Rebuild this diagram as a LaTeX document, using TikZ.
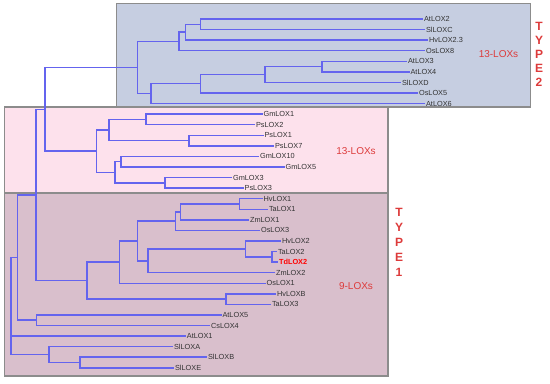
\documentclass[tikz,border=0pt]{standalone}
\usepackage{fontspec}
\setmainfont{Liberation Sans}
\definecolor{boxblue}{HTML}{C6CEE1}
\definecolor{boxpink}{HTML}{FDE1EC}
\definecolor{boxmauve}{HTML}{D9BFCC}
\definecolor{brc}{HTML}{6464EE}
\definecolor{lbred}{HTML}{DD3B3B}
\begin{document}
\begin{tikzpicture}[x=0.75pt, y=-0.75pt,
        bx/.style={draw=black!45, line width=0.9pt},
        br/.style={draw=brc, line width=1.1pt},
        lf/.style={anchor=west, inner sep=0.6pt, font=\fontsize{5.5}{6}\selectfont, text=black!80},
        grp/.style={font=\fontsize{7.5}{8}\selectfont, text=lbred},
        typ/.style={text=lbred, align=center, inner sep=0pt}
    ]
        \useasboundingbox (0,0) rectangle (550,383);
        % boxes
        \draw[bx, fill=boxblue]  (116.7,3.3) rectangle (530.7,107);
        \draw[bx, fill=boxpink]  (4.3,107)   rectangle (388,193);
        \draw[bx, fill=boxmauve] (4.3,193)   rectangle (388,376);

        % leaves, type 2
        \node[lf] (AtLOX2)  at (423,19)    {AtLOX2};
        \node[lf] (SlLOXC)  at (425,29.6)  {SlLOXC};
        \node[lf] (HvLOX23) at (428,40.1)  {HvLOX2.3};
        \node[lf] (OsLOX8)  at (425,50.7)  {OsLOX8};
        \node[lf] (AtLOX3)  at (407,61.3)  {AtLOX3};
        \node[lf] (AtLOX4)  at (409.5,71.9){AtLOX4};
        \node[lf] (SlLOXD)  at (401,82.4)  {SlLOXD};
        \node[lf] (OsLOX5)  at (418,93)    {OsLOX5};
        \node[lf] (AtLOX6)  at (425,103.6) {AtLOX6};
        % leaves, 13-LOXs
        \node[lf] (GmLOX1)  at (262.5,114.1) {GmLOX1};
        \node[lf] (PsLOX2)  at (255,124.7)   {PsLOX2};
        \node[lf] (PsLOX1)  at (263.5,135.3) {PsLOX1};
        \node[lf] (PsLOX7)  at (274,145.8)   {PsLOX7};
        \node[lf] (GmLOX10) at (259,156.4)   {GmLOX10};
        \node[lf] (GmLOX5)  at (284.5,167)   {GmLOX5};
        \node[lf] (GmLOX3)  at (232,177.6)   {GmLOX3};
        \node[lf] (PsLOX3)  at (243.6,188.1) {PsLOX3};
        % leaves, 9-LOXs
        \node[lf] (HvLOX1)  at (262.5,198.7) {HvLOX1};
        \node[lf] (TaLOX1)  at (268,209.3)   {TaLOX1};
        \node[lf] (ZmLOX1)  at (249,219.8)   {ZmLOX1};
        \node[lf] (OsLOX3)  at (260,230.4)   {OsLOX3};
        \node[lf] (HvLOX2)  at (281,241)     {HvLOX2};
        \node[lf] (TaLOX2)  at (277,251.5)   {TaLOX2};
        \node[lf, text=red, font=\fontsize{5.5}{6}\selectfont\bfseries] (TdLOX2) at (278,262.1) {TdLOX2};
        \node[lf] (ZmLOX2)  at (275,272.7)   {ZmLOX2};
        \node[lf] (OsLOX1)  at (265.6,283.3) {OsLOX1};
        \node[lf] (HvLOXB)  at (276,293.8)   {HvLOXB};
        \node[lf] (TaLOX3)  at (271,304.4)   {TaLOX3};
        \node[lf] (AtLOX5)  at (221.5,315)   {AtLOX5};
        \node[lf] (CsLOX4)  at (210,325.5)   {CsLOX4};
        \node[lf] (AtLOX1)  at (185.8,336.1) {AtLOX1};
        \node[lf] (SlLOXA)  at (173,346.7)   {SlLOXA};
        \node[lf] (SlLOXB)  at (207,357.2)   {SlLOXB};
        \node[lf] (SlLOXE)  at (174,367.8)   {SlLOXE};

        % inner nodes
        \coordinate (a1) at (200.7,24.3);
        \coordinate (a2) at (185.7,32.2);
        \coordinate (a3) at (179,41.5);
        \coordinate (b1) at (322,66.6);
        \coordinate (b2) at (265,74.5);
        \coordinate (b3) at (200.7,83.7);
        \coordinate (b4) at (151,93.7);
        \coordinate (t2) at (137.7,67.6);
        \coordinate (p1) at (146,119.4);
        \coordinate (p2) at (189,140.6);
        \coordinate (p3) at (109,130);
        \coordinate (p4) at (121,161.7);
        \coordinate (p5) at (165,182.8);
        \coordinate (p6) at (115,172.3);
        \coordinate (p7) at (96.7,151.1);
        \coordinate (n45) at (45,109.4);
        \coordinate (c1) at (239.4,204);
        \coordinate (c2) at (180.6,211.9);
        \coordinate (c3) at (175.4,221.2);
        \coordinate (d1) at (272,256.8);
        \coordinate (d2) at (245.7,248.9);
        \coordinate (d3) at (148,260.8);
        \coordinate (e1) at (137.6,241);
        \coordinate (e2) at (119.7,262.1);
        \coordinate (f1) at (225.8,299.1);
        \coordinate (e3) at (87,280.6);
        \coordinate (n36) at (36,195);
        \coordinate (g1) at (36.7,320.2);
        \coordinate (n17) at (17.3,257.6);
        \coordinate (h1) at (80,362.5);
        \coordinate (h2) at (49,354.6);
        \coordinate (rt) at (11,306);

        % branches
        \draw[br] (a1) |- (AtLOX2) (a1) |- (SlLOXC);
        \draw[br] (a2) |- (a1) (a2) |- (HvLOX23);
        \draw[br] (a3) |- (a2) (a3) |- (OsLOX8);
        \draw[br] (b1) |- (AtLOX3) (b1) |- (AtLOX4);
        \draw[br] (b2) |- (b1) (b2) |- (SlLOXD);
        \draw[br] (b3) |- (b2) (b3) |- (OsLOX5);
        \draw[br] (b4) |- (b3) (b4) |- (AtLOX6);
        \draw[br] (t2) |- (a3) (t2) |- (b4);
        \draw[br] (p1) |- (GmLOX1) (p1) |- (PsLOX2);
        \draw[br] (p2) |- (PsLOX1) (p2) |- (PsLOX7);
        \draw[br] (p3) |- (p1) (p3) |- (p2);
        \draw[br] (p4) |- (GmLOX10) (p4) |- (GmLOX5);
        \draw[br] (p5) |- (GmLOX3) (p5) |- (PsLOX3);
        \draw[br] (p6) |- (p4) (p6) |- (p5);
        \draw[br] (p7) |- (p3) (p7) |- (p6);
        \draw[br] (n45) |- (t2) (n45) |- (p7);
        \draw[br] (c1) |- (HvLOX1) (c1) |- (TaLOX1);
        \draw[br] (c2) |- (c1) (c2) |- (ZmLOX1);
        \draw[br] (c3) |- (c2) (c3) |- (OsLOX3);
        \draw[br] (d1) |- (TaLOX2) (d1) |- (TdLOX2);
        \draw[br] (d2) |- (HvLOX2) (d2) |- (d1);
        \draw[br] (d3) |- (d2) (d3) |- (ZmLOX2);
        \draw[br] (e1) |- (c3) (e1) |- (d3);
        \draw[br] (e2) |- (e1) (e2) |- (OsLOX1);
        \draw[br] (f1) |- (HvLOXB) (f1) |- (TaLOX3);
        \draw[br] (e3) |- (e2) (e3) |- (f1);
        \draw[br] (n36) |- (n45) (n36) |- (e3);
        \draw[br] (g1) |- (AtLOX5) (g1) |- (CsLOX4);
        \draw[br] (n17) |- (n36) (n17) |- (g1);
        \draw[br] (h1) |- (SlLOXB) (h1) |- (SlLOXE);
        \draw[br] (h2) |- (SlLOXA) (h2) |- (h1);
        \draw[br] (rt) |- (n17) (rt) |- (AtLOX1) (rt) |- (h2);

        % group labels
        \node[grp] (g13a) at (498.5,54)  {13-LOXs};
        \node[grp] (g13b) at (356,151)   {13-LOXs};
        \node[grp] (g9)   at (356,285.7) {9-LOXs};
        \node[typ, font=\fontsize{9}{10.35}\selectfont\bfseries] (ty2) at (539,54.3) {T\\Y\\P\\E\\2};
        \node[typ, font=\fontsize{9}{11.25}\selectfont\bfseries] (ty1) at (399,242) {T\\Y\\P\\E\\1};
    \end{tikzpicture}
\end{document}
